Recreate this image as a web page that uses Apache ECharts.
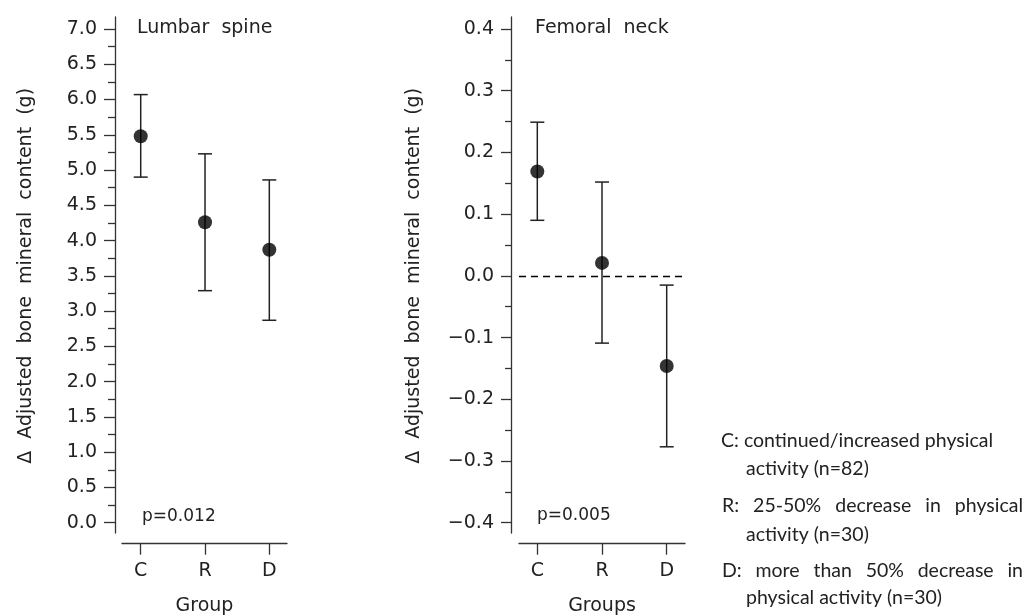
<!DOCTYPE html>
<html><head><meta charset="utf-8">
<script src="https://cdn.jsdelivr.net/npm/echarts@6/dist/echarts.min.js"></script>
<style>html,body{margin:0;padding:0;background:#fff}#c{width:1025px;height:616px}</style>
</head><body><div id="c"></div>
<script>
// ---- data ----
const groups = ['C', 'R', 'D'];
const groupPos = [1, 2, 3];
const lumbarMean = [5.48, 4.26, 3.87];
const lumbarLow = [4.90, 3.29, 2.87];
const lumbarHigh = [6.07, 5.23, 4.86];
const femoralMean = [0.169, 0.021, -0.146];
const femoralLow = [0.090, -0.109, -0.277];
const femoralHigh = [0.249, 0.152, -0.015];
const lumbarAxis = { min: 0, max: 7, interval: 0.5 };
const femoralAxis = { min: -0.4, max: 0.4, interval: 0.1 };
const panelTitles = ['Lumbar  spine', 'Femoral  neck'];
const pValues = ['p=0.012', 'p=0.005'];
const xNames = ['Group', 'Groups'];
const yName = 'Δ  Adjusted  bone  mineral  content  (g)';
const legendItems = [
  ['C: continued/increased physical', 'activity (n=82)'],
  ['R: 25-50% decrease in physical', 'activity (n=30)'],
  ['D: more than 50% decrease in', 'physical activity (n=30)']
];

// ---- chart ----
const AX = '#333';
const TXT = '#222';
const FONT = "'DejaVu Sans'";
const chart = echarts.init(document.getElementById('c'), null, { renderer: 'canvas' });

function toPairs(xs, ys) { return xs.map((x, i) => [x, ys[i]]); }
function errData(xs, lo, hi) { return xs.map((x, i) => [x, lo[i], hi[i]]); }

function errRender(params, api) {
  const x = api.value(0);
  const pLo = api.coord([x, api.value(1)]);
  const pHi = api.coord([x, api.value(2)]);
  const half = 7;
  const st = { stroke: '#222', lineWidth: 1.5 };
  return {
    type: 'group',
    children: [
      { type: 'line', shape: { x1: pLo[0], y1: pLo[1], x2: pHi[0], y2: pHi[1] }, style: st },
      { type: 'line', shape: { x1: pHi[0] - half, y1: pHi[1], x2: pHi[0] + half, y2: pHi[1] }, style: st },
      { type: 'line', shape: { x1: pLo[0] - half, y1: pLo[1], x2: pLo[0] + half, y2: pLo[1] }, style: st }
    ]
  };
}

function xAxisFor(gridIndex, min, max, name) {
  return {
    gridIndex, type: 'value', min, max, offset: 21,
    axisLine: { show: true, onZero: false, lineStyle: { color: AX, width: 1.3 } },
    axisTick: { show: true, length: 11, customValues: groupPos, lineStyle: { color: AX, width: 1.3 } },
    axisLabel: { customValues: groupPos, formatter: v => groups[Math.round(v) - 1], margin: 18,
      color: TXT, fontFamily: FONT, fontSize: 19 },
    splitLine: { show: false },
    name, nameLocation: 'middle', nameGap: 53,
    nameTextStyle: { color: TXT, fontFamily: FONT, fontSize: 19 }
  };
}
function yAxisFor(gridIndex, ax, nameGap, fmt) {
  return {
    gridIndex, type: 'value', min: ax.min, max: ax.max, interval: ax.interval, offset: 7,
    axisLine: { show: false, onZero: false },
    axisTick: { show: true, length: 11, lineStyle: { color: AX, width: 1.3 } },
    minorTick: { show: true, splitNumber: 2, length: 7, lineStyle: { color: AX, width: 1.3 } },
    axisLabel: { formatter: fmt, margin: 18, color: TXT, fontFamily: FONT, fontSize: 19 },
    splitLine: { show: false }, minorSplitLine: { show: false },
    name: yName, nameLocation: 'middle', nameGap,
    nameTextStyle: { color: TXT, fontFamily: FONT, fontSize: 19 }
  };
}
function lineOnlyY(gridIndex) {
  return { gridIndex, type: 'value', min: 0, max: 1,
    axisLine: { show: true, onZero: false, lineStyle: { color: AX, width: 1.3 } },
    axisTick: { show: false }, axisLabel: { show: false }, splitLine: { show: false } };
}
function hiddenX(gridIndex) {
  return { gridIndex, type: 'value', show: false, min: 0, max: 1 };
}

// legend text with justification
const LFONT = '19.5px Lato';
const mctx = document.createElement('canvas').getContext('2d');
function textEl(str, x, y, font) {
  return { type: 'text', x, y, silent: true,
    style: { text: str, font, fill: TXT, textAlign: 'left', textVerticalAlign: 'middle', align: 'left', verticalAlign: 'middle' } };
}
function justified(str, x0, x1, y, font) {
  mctx.font = font;
  const words = str.split(' ');
  const widths = words.map(w => mctx.measureText(w).width);
  const total = widths.reduce((a, b) => a + b, 0);
  const gap = (x1 - x0 - total) / (words.length - 1);
  let x = x0;
  return words.map((w, i) => { const el = textEl(w, x, y, font); x += widths[i] + gap; return el; });
}

const legendEls = [];
const firstY = [441, 506, 571];
const secondY = [469, 535, 598];
legendItems.forEach((item, i) => {
  if (i === 0) legendEls.push(textEl(item[0], 721, firstY[i], LFONT));
  else legendEls.push(...justified(item[0], 722, 1023, firstY[i], LFONT));
  legendEls.push(textEl(item[1], 746, secondY[i], LFONT));
});

const PFONT = "17px 'DejaVu Sans'";
const TFONT = "19px 'DejaVu Sans'";
const G = { containLabel: false, outerBoundsMode: 'none' };

const option = {
  animation: false,
  backgroundColor: '#fff',
  grid: [
    Object.assign({ left: 122, top: 29, width: 165, height: 493.7 }, G),
    Object.assign({ left: 115, top: 17, width: 1, height: 516 }, G),
    Object.assign({ left: 519, top: 29, width: 166, height: 493.7 }, G),
    Object.assign({ left: 511.7, top: 17, width: 1, height: 516 }, G)
  ],
  xAxis: [
    xAxisFor(0, 0.709, 3.275, xNames[0]),
    hiddenX(1),
    xAxisFor(2, 0.717, 3.283, xNames[1]),
    hiddenX(3)
  ],
  yAxis: [
    yAxisFor(0, lumbarAxis, 79, v => v.toFixed(1)),
    lineOnlyY(1),
    yAxisFor(2, femoralAxis, 88, v => (Math.abs(v) < 1e-9 ? '0.0' : v.toFixed(1).replace('-', '−'))),
    lineOnlyY(3)
  ],
  series: [
    { type: 'custom', xAxisIndex: 0, yAxisIndex: 0, renderItem: errRender,
      data: errData(groupPos, lumbarLow, lumbarHigh), silent: true, z: 2 },
    { type: 'scatter', xAxisIndex: 0, yAxisIndex: 0, symbol: 'circle', symbolSize: 14,
      itemStyle: { color: '#000' }, data: toPairs(groupPos, lumbarMean), silent: true, z: 3 },
    { type: 'custom', xAxisIndex: 2, yAxisIndex: 2, renderItem: errRender,
      data: errData(groupPos, femoralLow, femoralHigh), silent: true, z: 2 },
    { type: 'scatter', xAxisIndex: 2, yAxisIndex: 2, symbol: 'circle', symbolSize: 14,
      itemStyle: { color: '#000' }, data: toPairs(groupPos, femoralMean), silent: true, z: 3,
      markLine: { silent: true, symbol: 'none', label: { show: false },
        lineStyle: { color: '#000', type: [7, 5], width: 1.3 },
        data: [{ yAxis: 0 }] } }
  ],
  graphic: [
    textEl(panelTitles[0], 137, 28, TFONT),
    textEl(panelTitles[1], 535, 28, TFONT),
    textEl(pValues[0], 142, 517, PFONT),
    textEl(pValues[1], 537, 516, PFONT),
    ...legendEls
  ]
};
chart.setOption(option);
</script>
</body></html>
